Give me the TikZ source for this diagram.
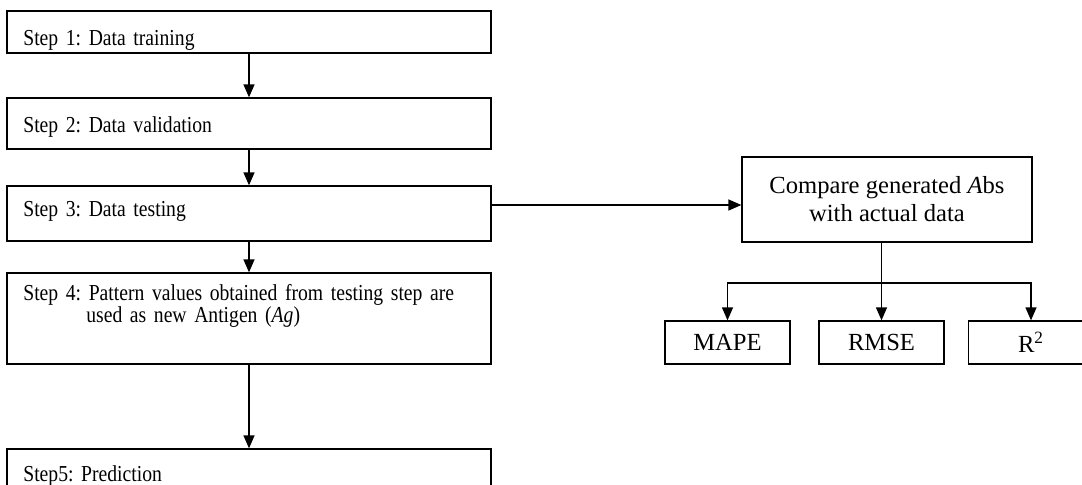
\documentclass[tikz,border=0pt]{standalone}
\usepackage{fontspec}
\setmainfont{Liberation Serif}
\newfontfamily\stepfont[FakeStretch=0.86]{Liberation Serif}
\usetikzlibrary{arrows.meta,positioning,calc}

\begin{document}
\frenchspacing
\begin{tikzpicture}[
  x=0.02cm, y=-0.02cm,
  >={Triangle[length=0.26cm,width=0.22cm]},
  stepbox/.style={draw, line width=0.75pt, minimum width=9.68cm, inner sep=0pt},
  steptext/.style={anchor=base west, inner sep=0pt, text width=9.2cm,
    align=left, font=\stepfont\fontsize{13}{12.8}\selectfont},
  cmpbox/.style={draw, line width=0.75pt, minimum width=5.8cm,
    minimum height=1.7cm, align=center, font=\fontsize{14}{16}\selectfont},
  metric/.style={draw, line width=0.75pt, minimum width=2.5cm,
    minimum height=0.86cm, font=\fontsize{14}{14}\selectfont},
  arr/.style={->, line width=0.75pt},
]
  \useasboundingbox (0,0) rectangle (1082,484);
  \clip (0,0) rectangle (1082,484);
  % steps
  \node[stepbox, minimum height=0.84cm] (s1) at (249,32) {};
  \node[stepbox, minimum height=1.02cm] (s2) at (249,123.5) {};
  \node[stepbox, minimum height=1.10cm] (s3) at (249,213.5) {};
  \node[stepbox, minimum height=1.82cm] (s4) at (249,318.5) {};
  \node[stepbox, minimum height=0.84cm] (s5) at (249,470) {};
  \node[steptext] (t1) at (23,45) {Step 1: Data training};
  \node[steptext] (t2) at (23,132) {Step 2: Data validation};
  \node[steptext] (t3) at (23,216) {Step 3: Data testing};
  \node[steptext] (t4) at (23,300) {Step 4: Pattern values obtained from testing step are\\
    \hspace*{1.26cm}used as new Antigen (\textit{Ag})};
  \node[steptext] (t5) at (23,481) {Step5: Prediction};
  % evaluation
  \node[cmpbox] (cmp) at (887,199.5) {Compare generated \textit{A}bs\\with actual data};
  \node[metric] (mape) at (727.5,342.5) {MAPE};
  \node[metric] (rmse) at (881.5,342.5) {RMSE};
  \node[metric] (rsq) at (1031,342.5) {R\textsuperscript{2}};
  \coordinate (j3) at ([yshift=0.17cm]s3.east);
  \coordinate (fork) at (881.5,283);
  \draw[arr] (s1.south) -- (s2.north);
  \draw[arr] (s2.south) -- (s3.north);
  \draw[arr] (s3.south) -- (s4.north);
  \draw[arr] (s4.south) -- (s5.north);
  \draw[arr] (j3) -- (j3 -| cmp.west);
  \draw[arr] (fork |- cmp.south) -- (rmse.north);
  \draw[arr] (fork) -| (mape.north);
  \draw[arr] (fork) -| (rsq.north);
\end{tikzpicture}
\end{document}
